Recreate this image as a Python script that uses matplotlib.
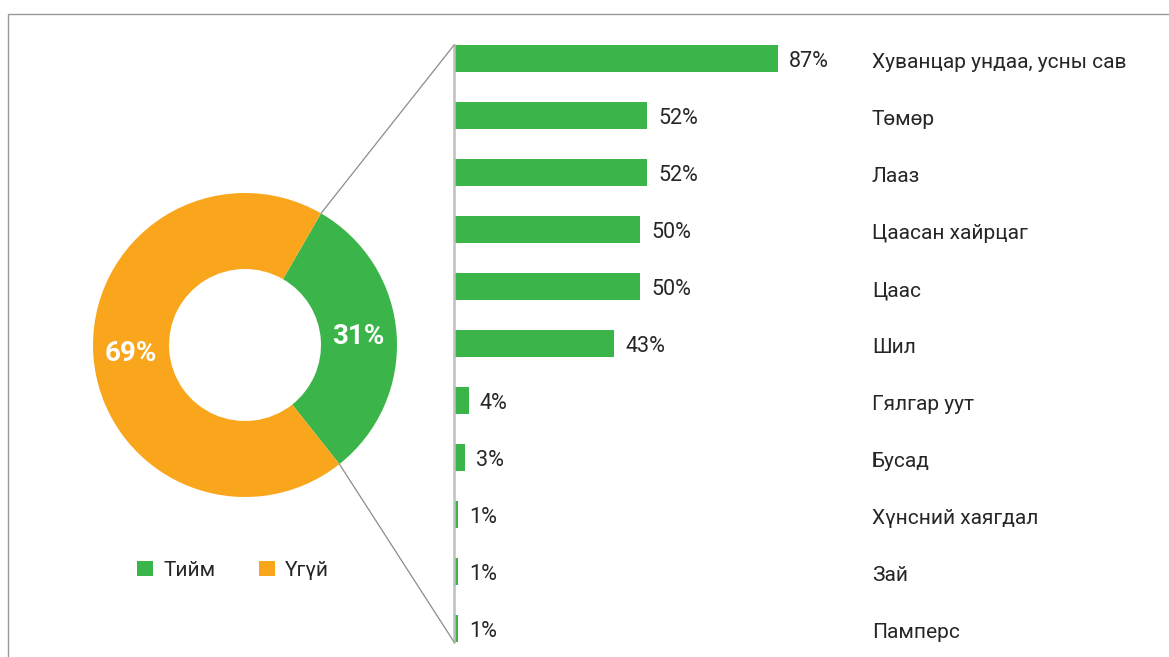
import matplotlib.pyplot as plt
from matplotlib.patches import ConnectionPatch, Rectangle
import matplotlib.transforms as mtransforms
import numpy as np

plt.rcParams['font.family'] = ['Roboto', 'DejaVu Sans']

# donut data
pie_labels = ["Тийм", "Үгүй"]
pie_values = [31, 69]

# bar data
categories = ["Хуванцар ундаа, усны сав", "Төмөр", "Лааз", "Цаасан хайрцаг", "Цаас",
              "Шил", "Гялгар уут", "Бусад", "Хүнсний хаягдал", "Зай", "Памперс"]
values = [87, 52, 52, 50, 50, 43, 4, 3, 1, 1, 1]

green = '#3bb54a'
orange = '#f9a61c'
txt = '#262626'
W, H = 1169, 657

fig = plt.figure(figsize=(W / 100, H / 100), dpi=100)

# outer frame (top + left edge only visible)
fig.add_artist(Rectangle((8 / W, -0.1), 1.2, (H - 14) / H + 0.1, transform=fig.transFigure,
                         fill=False, edgecolor='#999999', linewidth=1.0))

# donut
cx, cy, r = 245, 345, 152
ax0 = fig.add_axes([(cx - r) / W, (H - cy - r) / H, 2 * r / W, 2 * r / H])
wedges, _, autotexts = ax0.pie(pie_values, colors=[green, orange], startangle=60,
                               counterclock=False, radius=1, autopct='%d%%', pctdistance=0.75,
                               wedgeprops=dict(width=0.5, linewidth=0),
                               textprops=dict(color='white', fontsize=20, fontweight='bold'))
ax0.set_xlim(-1, 1)
ax0.set_ylim(-1, 1)
ax0.set_aspect('equal')
ax0.axis('off')

fig.legend(wedges, pie_labels, loc='center', bbox_to_anchor=(233 / W, (H - 570) / H),
           ncol=2, frameon=False, fontsize=15, handlelength=0.75, handleheight=0.75,
           handletextpad=0.5, columnspacing=2.1, labelcolor=txt)

# bars
slot = 57
top = 58.5 - slot / 2
ax1 = fig.add_axes([454 / W, 0, 372 / W, (H - top) / H])
ypos = np.arange(len(categories))
bh = 0.47
bars = ax1.barh(ypos, values, height=bh, color=green)
vlabels = ax1.bar_label(bars, labels=[f'{v}%' for v in values], padding=8, fontsize=15.5, color=txt)
ax1.set_xlim(0, 100)
ax1.set_ylim(len(categories) - 0.5, -0.5)
ax1.set_yticks(ypos)
ax1.set_yticklabels(categories, fontsize=15, color=txt)
ax1.yaxis.tick_right()
ax1.tick_params(axis='y', length=0, pad=33)
for s in ['top', 'right', 'bottom']:
    ax1.spines[s].set_visible(False)
ax1.spines['left'].set_color('#bfbfbf')
ax1.spines['left'].set_linewidth(1.8)
ax1.spines['left'].set_bounds(-bh / 2, len(categories) - 1 + bh / 2)
ax1.set_xticks([])

# nudge texts a little lower, like the reference
shift = mtransforms.ScaledTranslation(0, -2 / 100, fig.dpi_scale_trans)
for lab in ax1.get_yticklabels():
    lab.set_horizontalalignment('left')
    lab.set_transform(lab.get_transform() + shift)
for t in vlabels:
    t.xyann = (t.xyann[0], t.xyann[1] - 2)

# connector lines from the green wedge to the bar axis
w = wedges[0]
for ang, yb in [(w.theta2, -bh / 2), (w.theta1, len(categories) - 1 + bh / 2)]:
    p = (np.cos(np.radians(ang)), np.sin(np.radians(ang)))
    con = ConnectionPatch(xyA=p, coordsA=ax0.transData, xyB=(0, yb), coordsB=ax1.transData,
                          color='#8c8c8c', linewidth=0.9)
    fig.add_artist(con)

plt.savefig('out.png', dpi=100)
